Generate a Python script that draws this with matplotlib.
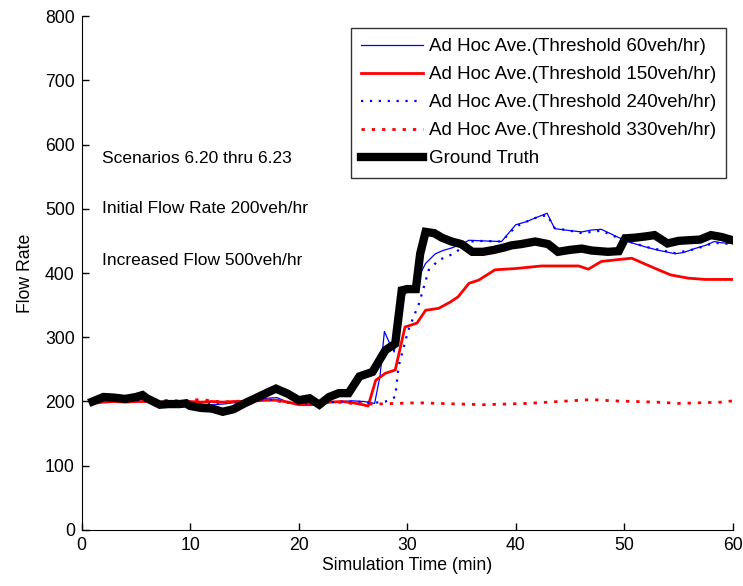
import matplotlib
matplotlib.use("Agg")
import matplotlib.pyplot as plt

plt.rcParams['font.family'] = ['Liberation Sans', 'DejaVu Sans']

# Ground truth
x_gt = [1, 2, 3, 4, 5, 5.6, 6, 7.2, 8, 9, 9.6, 10, 11, 12, 13, 14, 15, 16, 17, 17.9, 19, 20, 21, 21.9,
        22.8, 23.7, 24.6, 25.6, 26.8, 28, 28.9, 29.5, 30, 30.8, 31.2, 31.7, 32.5, 33.2, 34.1, 35, 36,
        37, 38, 39, 39.6, 40.5, 41.8, 43, 43.9, 45, 46.1, 47, 48.5, 49.5, 50.1, 51, 52, 52.8, 54, 55,
        55.9, 57, 58, 59, 60]
y_gt = [200, 207, 206, 204, 207, 210, 205, 195, 196, 196, 197, 193, 190, 189, 184, 188, 197, 205, 213, 220,
        212, 202, 205, 195, 207, 213, 213, 239, 246, 280, 290, 373, 375, 375, 430, 464, 462, 455, 449, 445, 433,
        433, 436, 440, 443, 445, 449, 445, 433, 436, 438, 435, 433, 434, 454, 455, 457, 459, 446, 450, 451,
        452, 459, 456, 451]

# Threshold 60 (blue solid)
x_60 = [1, 2, 3, 4, 5, 6, 7, 8, 9, 10, 11, 12, 13, 14, 15, 16, 17, 18, 19, 20, 21, 22, 23, 24, 25, 26,
        27, 27.5, 27.9, 28.4, 28.8, 29.3, 29.8, 30.5, 31.1, 31.7, 32.6, 33.3, 34.1, 35, 35.7, 37, 38.7,
        40, 41, 42, 42.9, 43.6, 45, 46.1, 47, 47.9, 49.4, 50.5, 51.9, 53, 54.7, 55.5, 56.5, 57.5, 58.3,
        59, 60]
y_60 = [198, 202, 203, 202, 203, 204, 198, 198, 199, 197, 196, 195, 196, 198, 200, 203, 205, 206, 199, 196,
        198, 196, 199, 200, 201, 200, 197, 240, 309, 290, 277, 330, 368, 375, 395, 415, 430, 435, 439, 445,
        451, 450, 449, 475, 480, 487, 493, 469, 466, 464, 467, 468, 456, 448, 441, 436, 430, 432, 438,
        443, 449, 447, 446]

# Threshold 150 (red solid)
x_150 = [1, 2, 3, 4, 5, 6, 7, 8, 9, 10, 11, 12, 13, 14, 15, 16, 17, 18, 19, 20, 21, 22, 22.8, 24, 25,
         25.9, 26.4, 27.1, 28, 28.9, 29.8, 30.9, 31.7, 32.9, 34, 34.7, 35.7, 36.6, 38.1, 40, 42.4, 44,
         45.8, 46.7, 47.9, 49.5, 50.7, 52.2, 53.3, 54.3, 55.9, 57.5, 59, 60]
y_150 = [197, 199, 200, 199, 200, 200, 199, 199, 199, 200, 199, 200, 199, 200, 200, 201, 202, 202, 199, 195,
         195, 196, 199, 200, 198, 195, 193, 233, 244, 249, 316, 322, 342, 345, 355, 363, 384, 389, 405, 407,
         411, 411, 411, 406, 418, 421, 423, 412, 404, 397, 392, 390, 390, 390]

# Threshold 240 (blue dotted)
x_240 = [1, 3, 5, 7, 9, 11, 13, 15, 17, 19, 21, 23, 25, 27, 28, 28.9, 29.2, 30.1, 31.1, 32, 32.9,
         34.4, 35.7, 37, 38.7, 40, 41, 42, 42.9, 43.6, 45, 46.1, 47.9, 49.4, 51.9, 54.7, 56.5, 58.3,
         60]
y_240 = [199, 202, 202, 199, 198, 196, 197, 200, 204, 198, 197, 199, 200, 198, 200, 207, 254, 311, 353, 405,
         420, 431, 449, 450, 449, 472, 480, 487, 490, 470, 466, 462, 466, 455, 441, 431, 437, 447, 445]

# Threshold 330 (red dotted)
x_330 = [1, 3, 5, 7, 9, 11, 13, 15, 17, 19, 21, 23, 25, 27, 29, 31, 33, 35, 37, 39, 41, 43, 45, 47,
         49, 51, 53, 55, 57, 59, 60]
y_330 = [199, 201, 200, 202, 201, 203, 199, 201, 203, 199, 196, 200, 197, 196, 197, 198, 197, 196, 195,
         196, 197, 199, 201, 203, 201, 200, 199, 197, 198, 199, 201]

legend_labels = ['Ad Hoc Ave.(Threshold 60veh/hr)', 'Ad Hoc Ave.(Threshold 150veh/hr)',
                 'Ad Hoc Ave.(Threshold 240veh/hr)', 'Ad Hoc Ave.(Threshold 330veh/hr)', 'Ground Truth']
notes = ['Scenarios 6.20 thru 6.23', 'Initial Flow Rate 200veh/hr', 'Increased Flow 500veh/hr']
note_y = [579, 500, 419]

FS_TICK = 12.7
FS_NOTE = 12.5
FS_LEG = 13.5

fig = plt.figure(figsize=(7.43, 5.86), dpi=100)
ax = fig.add_axes([0.110, 0.0956, 0.876, 0.877])

l1, = ax.plot(x_60, y_60, color='#0000ff', lw=0.9)
l2, = ax.plot(x_150, y_150, color='#ff0000', lw=2.0)
l3, = ax.plot(x_240, y_240, color='#0000ff', lw=1.6, ls=(0, (1, 3)))
l4, = ax.plot(x_330, y_330, color='#ff0000', lw=2.0, ls=(0, (1.2, 2.5)))
l5, = ax.plot(x_gt, y_gt, color='black', lw=6, solid_joinstyle='miter')

ax.set_xlim(0, 60)
ax.set_ylim(0, 800)
ax.set_xticks(range(0, 61, 10))
ax.set_yticks(range(0, 801, 100))
ax.tick_params(direction='in', labelsize=FS_TICK, length=5, width=1, pad=5)
for s in ['top', 'right']:
    ax.spines[s].set_visible(False)
ax.set_xlabel('Simulation Time (min)', fontsize=FS_TICK, labelpad=2)
ax.set_ylabel('Flow Rate', fontsize=FS_TICK, labelpad=8)

for t, yy in zip(notes, note_y):
    ax.text(1.9, yy, t, fontsize=FS_NOTE, va='center', ha='left')

leg = ax.legend([l1, l2, l3, l4, l5], legend_labels, loc='upper right', bbox_to_anchor=(0.990, 0.977),
                fontsize=FS_LEG, frameon=True, fancybox=False, handlelength=3.3, handletextpad=0.3,
                borderpad=0.55, labelspacing=0.58, borderaxespad=0)
leg.get_frame().set_edgecolor('black')
leg.get_frame().set_linewidth(1)

fig.savefig('out.png', dpi=100)
